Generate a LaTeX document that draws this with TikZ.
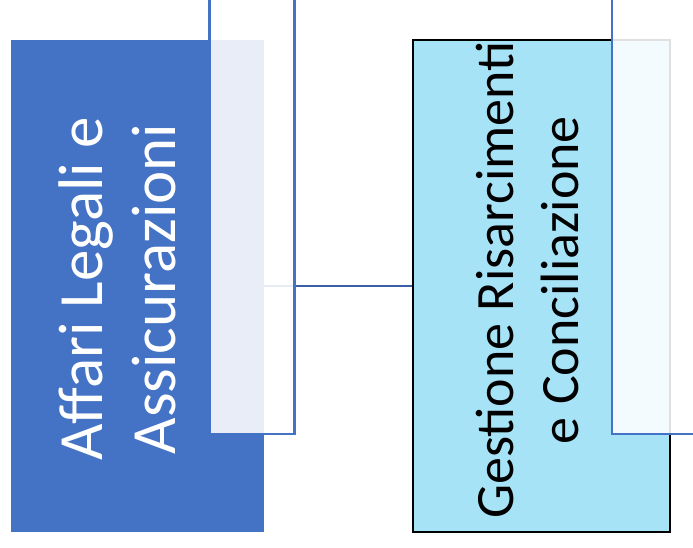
\documentclass[tikz,border=0pt]{standalone}
\usepackage{fontspec}
\setmainfont{Carlito}
\definecolor{unitblue}{HTML}{4472C4}
\definecolor{linkblue}{HTML}{3B5FA6}
\definecolor{officecyan}{HTML}{A7E3F7}

\begin{document}
\begin{tikzpicture}[x=1pt,y=-1pt,
    unit/.style ={rectangle, fill=unitblue, minimum width=253pt, minimum height=492pt, inner sep=0pt},
    office/.style ={rectangle, draw=black, line width=2.2pt, fill=officecyan, minimum width=257pt, minimum height=492pt, inner sep=0pt},
    veil/.style ={draw=unitblue, line width=2.4pt, fill=white, fill opacity=0.88},
    boxtext/.style ={rotate=90, align=center, inner sep=0pt}]
   \clip (0,0) rectangle (693,547);
   \node[unit] (A) at (137.5,286) {};
   \node[office] (B) at (541.5,286) {};
   \draw[linkblue, line width=2.4pt] (A.east) to (B.west);
   \draw[veil] (209.5,-10) rectangle (294.5,434);
   \draw[veil] (612,-10) rectangle (720,434);
   \node[boxtext, text=white, font=\fontsize{63}{73}\selectfont] (At) at (117,289) {Affari Legali e\\Assicurazioni};
   \node[boxtext, text=black, font=\fontsize{54}{65}\selectfont] (Bt) at (528,280) {Gestione Risarcimenti\\e Conciliazione};
\end{tikzpicture}
\end{document}
